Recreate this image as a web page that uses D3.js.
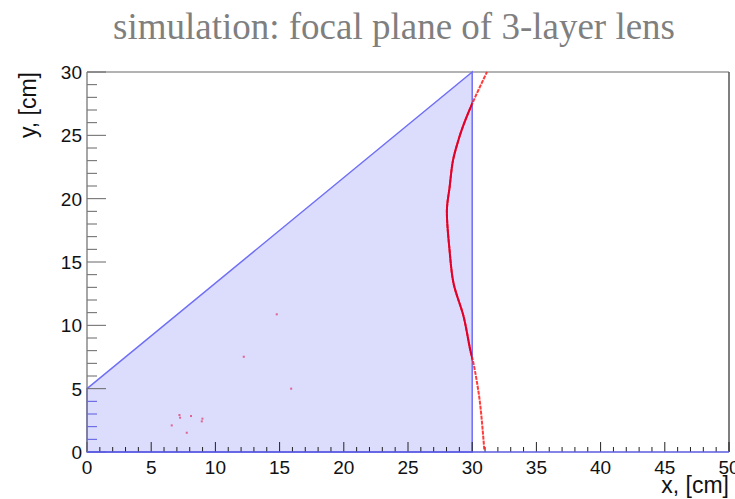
<!DOCTYPE html>
<html lang="en">
<head>
<meta charset="utf-8">
<title>focal plane of 3-layer lens</title>
<script src="https://d3js.org/d3.v7.min.js"></script>
<style type="text/css">
  body { margin: 0; background: #fff; }
  text { font-family: "Liberation Sans", Arial, sans-serif; }
</style>
</head>
<body>
<script type="text/javascript">
// data
var titleText = "simulation: focal plane of 3-layer lens";
var xTitle = "x, [cm]";
var yTitle = "y, [cm]";
var xTicks = [0, 5, 10, 15, 20, 25, 30, 35, 40, 45, 50];
var yTicks = [0, 5, 10, 15, 20, 25, 30];

// acceptance region (blue polygon)
var regionX = [0, 0, 30, 30];
var regionY = [0, 5, 30, 0];

// simulated focal points (red curve)
var curveX = [30.94, 30.58, 30.1, 29.85, 29.33, 28.55, 28.24, 28.03, 28.24, 28.5, 28.86, 29.28, 30.0, 31.15];
var curveY = [0.2, 4.1, 7.0, 8.05, 10.7, 13.3, 15.9, 19.1, 20.9, 23.0, 24.4, 25.7, 27.5, 30.0];

// stray points
var strayX = [14.78, 12.21, 15.9, 7.2, 7.25, 8.1, 8.99, 8.94, 6.6, 7.77];
var strayY = [10.87, 7.52, 5.0, 2.92, 2.71, 2.84, 2.63, 2.42, 2.1, 1.52];

var w = 735, h = 499;
var padL = 87, padR = 729, padT = 72, padB = 452;

var svg = d3.select("body").append("svg")
  .attr("width", w).attr("height", h);

var x = d3.scaleLinear().domain([0, 50]).range([padL, padR]);
var y = d3.scaleLinear().domain([0, 30]).range([padB, padT]);

// title
svg.append("text")
  .attr("x", 394).attr("y", 39)
  .attr("text-anchor", "middle")
  .style("font-family", "'Liberation Serif', 'Times New Roman', serif")
  .style("font-size", "37px")
  .attr("fill", "#7f7f7f")
  .text(titleText);

// frame
svg.append("line").attr("x1", padL).attr("x2", padR).attr("y1", padT).attr("y2", padT)
  .attr("stroke", "#9a9a9a").attr("stroke-width", 1.3);
svg.append("line").attr("x1", padR).attr("x2", padR).attr("y1", padT).attr("y2", padB)
  .attr("stroke", "#555").attr("stroke-width", 1.5);

// region polygon
var poly = regionX.map(function(d, i) { return [x(d), y(regionY[i])]; });
var polyD = "M" + poly.join("L") + "Z";
svg.append("clipPath").attr("id", "region").append("path").attr("d", polyD);
svg.append("path")
  .attr("d", polyD)
  .attr("fill", "#dcdcfd")
  .attr("stroke", "#6f6ff5")
  .attr("stroke-width", 1.5);

// x axis
var gx = svg.append("g").attr("transform", "translate(0," + padB + ")");
gx.selectAll("line.tick")
  .data(x.ticks(50))
  .enter().append("line")
  .attr("x1", function(d) { return x(d); })
  .attr("x2", function(d) { return x(d); })
  .attr("y1", 0)
  .attr("y2", function(d) { return d % 5 === 0 ? -10 : -5; })
  .attr("stroke", "#222").attr("stroke-width", 1);
gx.append("line").attr("x1", padL).attr("x2", padR).attr("y1", 0).attr("y2", 0)
  .attr("stroke", "#5a5ae0").attr("stroke-width", 1.5);
gx.selectAll("text")
  .data(xTicks)
  .enter().append("text")
  .attr("x", function(d) { return x(d); })
  .attr("y", 22)
  .attr("text-anchor", "middle")
  .style("font-size", "19px")
  .attr("fill", "#111")
  .text(function(d) { return d; });

// y axis
var gy = svg.append("g").attr("transform", "translate(" + padL + ",0)");
gy.selectAll("line.tick")
  .data(y.ticks(30))
  .enter().append("line")
  .attr("x1", 0)
  .attr("x2", function(d) { return d % 5 === 0 ? 19 : 10; })
  .attr("y1", function(d) { return y(d); })
  .attr("y2", function(d) { return y(d); })
  .attr("stroke", function(d) { return d < 5 ? "#5a5ae0" : "#666"; })
  .attr("stroke-width", 1);
gy.append("line").attr("x1", 0).attr("x2", 0).attr("y1", padT).attr("y2", padB)
  .attr("stroke", "#777").attr("stroke-width", 1.3);
gy.selectAll("text")
  .data(yTicks)
  .enter().append("text")
  .attr("x", -5)
  .attr("y", function(d) { return y(d) + 7; })
  .attr("text-anchor", "end")
  .style("font-size", "19px")
  .attr("fill", "#111")
  .text(function(d) { return d; });

// axis titles
svg.append("text")
  .attr("x", padR).attr("y", 493)
  .attr("text-anchor", "end")
  .style("font-size", "23px")
  .attr("fill", "#111")
  .text(xTitle);
svg.append("text")
  .attr("transform", "translate(36," + padT + ") rotate(-90)")
  .attr("text-anchor", "end")
  .style("font-size", "23px")
  .attr("fill", "#111")
  .text(yTitle);

// red curve: lighter outside the region, solid inside it
var line = d3.line()
  .x(function(d, i) { return x(curveX[i]); })
  .y(function(d, i) { return y(curveY[i]); })
  .curve(d3.curveCatmullRom);
svg.append("path")
  .datum(curveX)
  .attr("d", line)
  .attr("fill", "none")
  .attr("stroke", "#ff1a1a")
  .attr("stroke-opacity", 0.85)
  .attr("stroke-dasharray", "4,1")
  .attr("stroke-width", 2);
svg.append("path")
  .datum(curveX)
  .attr("d", line)
  .attr("clip-path", "url(#region)")
  .attr("fill", "none")
  .attr("stroke", "#e0002a")
  .attr("stroke-width", 2);

svg.selectAll("rect.stray")
  .data(strayX)
  .enter().append("rect")
  .attr("class", "stray")
  .attr("x", function(d) { return x(d) - 1; })
  .attr("y", function(d, i) { return y(strayY[i]) - 1; })
  .attr("width", 2).attr("height", 2)
  .attr("fill", "#e03060")
  .attr("fill-opacity", 0.7);
</script>
</body>
</html>
